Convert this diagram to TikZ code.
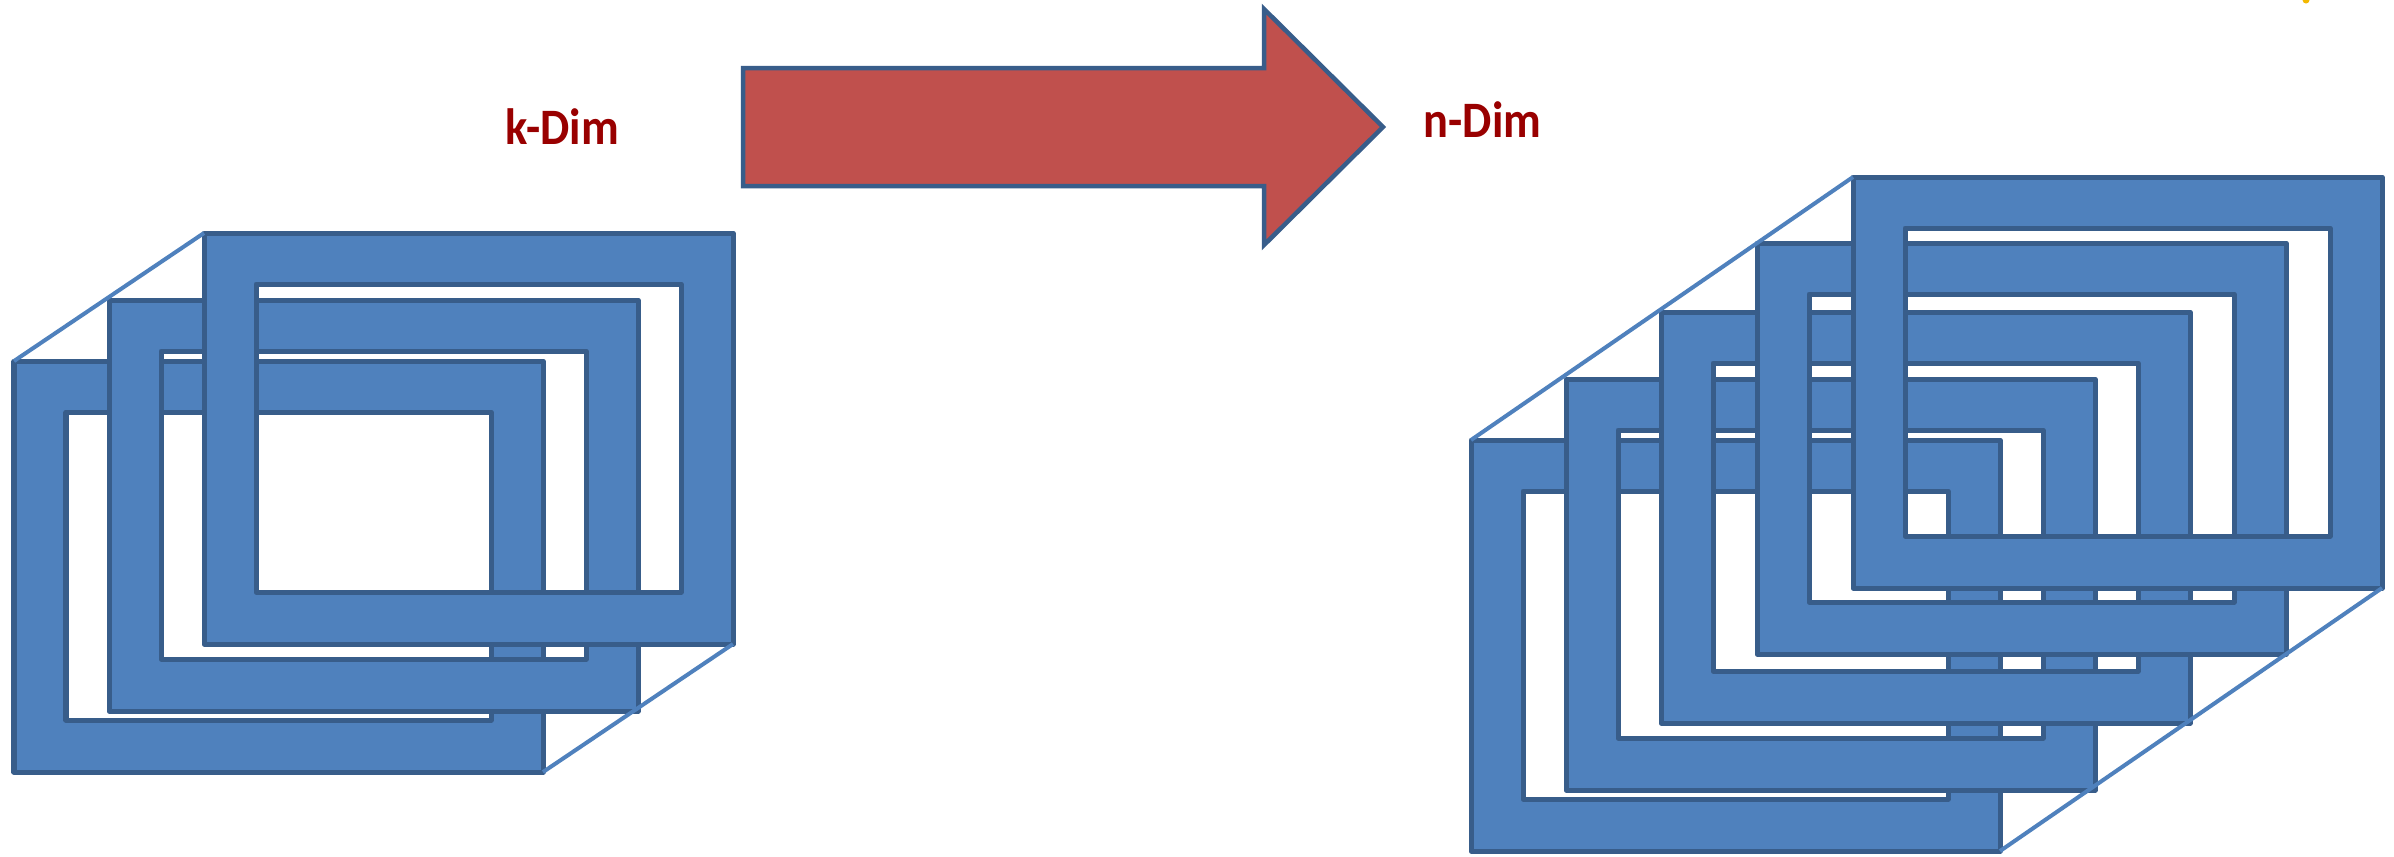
\documentclass[tikz,border=0pt]{standalone}
\usepackage{fontspec}
\setmainfont{Carlito}
\definecolor{fblue}{HTML}{4F81BD}
\definecolor{fedge}{HTML}{385D8A}
\definecolor{ared}{HTML}{C0504D}
\definecolor{tred}{HTML}{990000}
\definecolor{dotyel}{HTML}{F2B800}
\newcommand\sheetframe[3]{%
  \path[sheet] (#2,#3) rectangle ++(529,411) (#2+52,#3+51) rectangle ++(425,308);
  \coordinate (#1-nw) at (#2,#3);
  \coordinate (#1-se) at (#2+529,#3+411);}
\begin{document}
\begin{tikzpicture}[x=0.01cm,y=-0.01cm,
  sheet/.style={fill=fblue,draw=fedge,line width=0.5mm,even odd rule,line join=round},
  link/.style={draw=fblue,line width=0.4mm},
  bigarrow/.style={fill=ared,draw=fedge,line width=0.45mm,line join=miter},
  lbl/.style={text=tred,font=\bfseries\fontsize{13.2}{15}\selectfont,inner sep=0pt,anchor=base west}]
\useasboundingbox (0,0) rectangle (2394,856);
\fill[white] (0,0) rectangle (2394,856);
\fill[dotyel] (2306,0) circle (3.5);
% left group
\sheetframe{A}{14}{361}
\sheetframe{B}{109}{300}
\sheetframe{C}{204}{233}
\draw[link] (A-nw) -- (C-nw);
\draw[link] (A-se) -- (C-se);
% right group
\sheetframe{F1}{1471}{440}
\sheetframe{F2}{1566}{379}
\sheetframe{F3}{1661}{312}
\sheetframe{F4}{1757}{243}
\sheetframe{F5}{1853}{177}
\draw[link] (F1-nw) -- (F5-nw);
\draw[link] (F1-se) -- (F5-se);
% arrow
\draw[bigarrow] (743,68) -- (1264,68) -- (1264,9) -- (1383,127) -- (1264,245) -- (1264,186) -- (743,186) -- cycle;
% labels
\node[lbl] (kdim) at (505,144) {\scalebox{1}[1.1]{k-Dim}};
\node[lbl] (ndim) at (1423,137) {\scalebox{1}[1.1]{n-Dim}};
\end{tikzpicture}
\end{document}
